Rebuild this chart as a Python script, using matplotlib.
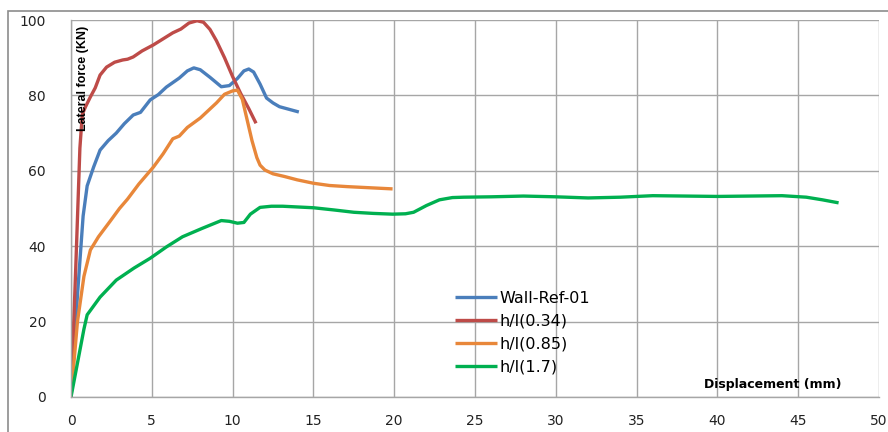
import matplotlib
matplotlib.use("Agg")
import matplotlib.pyplot as plt
from matplotlib.patches import Rectangle

# Wall-Ref-01
ref_x = [0, 0.4, 0.75, 1.0, 1.4, 1.8, 2.3, 2.8, 3.3, 3.85, 4.3, 4.9, 5.4, 5.9, 6.7, 7.2, 7.6, 8.0,
         8.6, 9.3, 9.8, 10.3, 10.7, 11.0, 11.3, 11.7, 12.1, 12.5, 12.9, 13.5, 14.1]
ref_y = [0, 27, 48, 56, 61, 65.5, 68, 70, 72.5, 74.8, 75.5, 78.8, 80.2, 82.2, 84.6, 86.5, 87.3, 86.8,
         84.8, 82.3, 82.6, 84.5, 86.5, 87.0, 86.2, 83.0, 79.3, 78.0, 77.0, 76.3, 75.6]

# h/l(0.34)
r34_x = [0, 0.3, 0.55, 0.7, 0.9, 1.2, 1.5, 1.8, 2.2, 2.7, 3.2, 3.5, 3.85, 4.4, 5.1, 5.7, 6.3, 6.8,
         7.3, 7.8, 8.2, 8.6, 9.0, 9.5, 10.0, 10.5, 11.0, 11.45]
r34_y = [0, 35, 66, 75, 77, 79.6, 82, 85.4, 87.5, 88.8, 89.4, 89.6, 90.2, 91.8, 93.4, 95, 96.6, 97.6,
         99.2, 99.8, 99.4, 97.5, 94.5, 90, 85, 80.5, 76.5, 72.6]

# h/l(0.85)
r85_x = [0, 0.4, 0.8, 1.2, 1.7, 2.4, 3.0, 3.5, 4.2, 5.1, 5.7, 6.3, 6.7, 7.2, 8.0, 9.0, 9.5, 10.0,
         10.3, 10.6, 10.9, 11.2, 11.5, 11.7, 12.0, 12.5, 13.2, 14.0, 15.0, 16.0, 17.1, 18.5, 19.9]
r85_y = [0, 20, 32, 39, 42.5, 46.5, 50, 52.5, 56.5, 61, 64.5, 68.5, 69.2, 71.5, 74, 78, 80.3, 81.2,
         81.4, 79, 73.5, 68, 63.5, 61.5, 60.2, 59.2, 58.5, 57.6, 56.7, 56.1, 55.8, 55.5, 55.2]

# h/l(1.7)
r17_x = [0, 0.4, 0.8, 1.0, 1.8, 2.8, 3.9, 4.9, 5.9, 6.9, 8.1, 9.3, 9.8, 10.3, 10.7, 11.1, 11.7, 12.4,
         13.1, 15.0, 16.3, 17.5, 18.7, 19.9, 20.7, 21.2, 22.0, 22.8, 23.6, 24.3, 26.0, 28.0, 30.0, 32.0,
         34.0, 36.0, 38.0, 40.0, 42.0, 44.0, 45.5, 46.5, 47.5]
r17_y = [0, 9, 18, 21.8, 26.5, 31, 34.2, 36.8, 39.8, 42.5, 44.7, 46.8, 46.6, 46.1, 46.3, 48.5, 50.3, 50.6,
         50.6, 50.2, 49.6, 49.0, 48.7, 48.5, 48.6, 49.0, 50.8, 52.3, 52.9, 53.0, 53.1, 53.3, 53.1, 52.8,
         53.0, 53.4, 53.3, 53.2, 53.3, 53.4, 53.0, 52.3, 51.5]

labels = ["Wall-Ref-01", "h/l(0.34)", "h/l(0.85)", "h/l(1.7)"]
colors = ["#4A7EBB", "#BE4B48", "#E8873A", "#00B050"]

fig = plt.figure(figsize=(8.88, 4.32), dpi=100)
fig.patches.append(Rectangle((8 / 888, -0.2), 1.2, 1.2 - 11 / 432, transform=fig.transFigure,
                             fill=False, edgecolor="#8C8C8C", linewidth=1.2))
ax = fig.add_axes([71 / 888, 1 - 397 / 432, 808 / 888, 377 / 432])

for xs, ys, lab, c in zip([ref_x, r34_x, r85_x, r17_x], [ref_y, r34_y, r85_y, r17_y], labels, colors):
    ax.plot(xs, ys, color=c, linewidth=2.4, label=lab, solid_capstyle="butt", solid_joinstyle="round")

ax.set_xlim(0, 50)
ax.set_ylim(0, 100)
ax.set_xticks(range(0, 51, 5))
ax.set_yticks(range(0, 101, 20))
ax.grid(True, color="#A6A6A6", linewidth=1.0)
ax.set_axisbelow(True)
for s in ["top", "right"]:
    ax.spines[s].set_visible(False)
for s in ["left", "bottom"]:
    ax.spines[s].set_color("#A6A6A6")
    ax.spines[s].set_linewidth(1.0)
ax.tick_params(length=0, labelsize=10, colors="#222222")
ax.tick_params(axis="x", pad=12)
ax.tick_params(axis="y", pad=18)

ax.text(0.35, 98.5, "Lateral force (KN)", rotation=90, ha="left", va="top",
        fontsize=9, fontweight="bold", family="Liberation Sans")
ax.text(39.2, 3.2, "Displacement (mm)", ha="left", va="center", fontsize=9, fontweight="bold")

ax.legend(loc="upper left", bbox_to_anchor=((455 - 71) / 808, (397 - 291) / 377), frameon=False,
          fontsize=11.5, handlelength=2.6, handletextpad=0.2, labelspacing=0.5,
          borderpad=0, borderaxespad=0)

fig.savefig("out.png", dpi=100)
